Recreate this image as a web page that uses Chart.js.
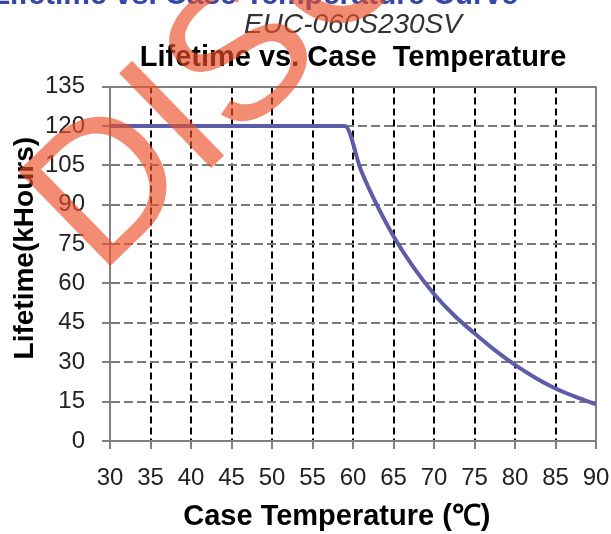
<!DOCTYPE html>
<html>
<head>
<meta charset="utf-8">
<script src="https://cdn.jsdelivr.net/npm/chart.js@4/dist/chart.umd.min.js"></script>
<style>
    body { margin: 0; background: #fff; }
    #wrap { width: 611px; height: 534px; }
</style>
</head>
<body>
<div id="wrap"><canvas id="chart_life"></canvas></div>
<script>
// case temperature (C) and lifetime (kHours)
const temps    = [30, 59, 61, 63, 65, 67.5, 70, 72.5, 75, 77.5, 80, 82.5, 85, 87.5, 90];
const lifetime = [120, 120, 103, 89.5, 78, 66, 56, 47.8, 41, 34.6, 29, 24.1, 20, 16.8, 14];

const xTicks = [30, 35, 40, 45, 50, 55, 60, 65, 70, 75, 80, 85, 90];
const yTicks = [0, 15, 30, 45, 60, 75, 90, 105, 120, 135];

const topTitle = "Lifetime vs. Case Temperature Curve";
const model    = "EUC-060S230SV";
const mainTitle = "Lifetime vs. Case  Temperature";
const stamp    = "DISCONTINUED";

const FONT = "'Liberation Sans', Arial, sans-serif";
const GRAY = "#808080";

// the cut-off blue heading and the red stamp across the corner
const overlay = {
    id: "overlay",
    afterDraw(chart) {
        const ctx = chart.ctx;
        ctx.save();
        ctx.font = "bold 30px " + FONT;
        ctx.fillStyle = "#3446a8";
        ctx.textAlign = "right";
        ctx.textBaseline = "alphabetic";
        ctx.fillText(topTitle, 518, 4);
        ctx.restore();

        ctx.save();
        ctx.translate(99, 277);
        ctx.rotate(-44.2 * Math.PI / 180);
        ctx.font = "192px " + FONT;
        ctx.fillStyle = "rgba(235, 80, 40, 0.65)";
        ctx.textBaseline = "alphabetic";
        ctx.fillText(stamp, 0, 0);
        ctx.restore();
    }
};

function edge(ctx, list) {
    return ctx.index === 0 || ctx.index === list.length - 1;
}

const points = temps.map((t, i) => ({x: t, y: lifetime[i]}));

new Chart(document.getElementById("chart_life"), {
    type: "scatter",
    data: {
        datasets: [{
            data: points,
            showLine: true,
            borderColor: "#5c5ca8",
            borderWidth: 4,
            pointRadius: 0,
            cubicInterpolationMode: "monotone"
        }]
    },
    options: {
        responsive: true,
        maintainAspectRatio: false,
        animation: false,
        layout: { padding: { right: 15 } },
        plugins: {
            legend: { display: false },
            tooltip: { enabled: false },
            title: {
                display: true,
                text: model,
                fullSize: false,
                color: "#333",
                font: { family: FONT, size: 28, style: "italic", weight: "normal", lineHeight: 1.2 },
                padding: { top: 8, bottom: 0 }
            },
            subtitle: {
                display: true,
                text: mainTitle,
                fullSize: false,
                color: "#000",
                font: { family: FONT, size: 29, weight: "bold", lineHeight: 1.1 },
                padding: { top: 0, bottom: 13 }
            }
        },
        scales: {
            x: {
                type: "linear",
                min: 30,
                max: 90,
                afterFit: s => { s.height = 93; s.paddingLeft = 0; s.paddingRight = 0; },
                afterBuildTicks: s => { s.ticks = xTicks.map(v => ({value: v})); },
                ticks: { color: "#222", padding: 15, font: { family: FONT, size: 24 } },
                grid: {
                    color: c => edge(c, xTicks) ? GRAY : "#000",
                    lineWidth: 2,
                    tickLength: 8,
                    tickColor: GRAY,
                    tickWidth: 2,
                    tickBorderDash: []
                },
                border: {
                    color: GRAY,
                    width: 2,
                    dash: c => edge(c, xTicks) ? [] : [7, 4]
                },
                title: {
                    display: true,
                    text: "Case Temperature (\u2103)    ",
                    color: "#000",
                    font: { family: FONT, size: 29, weight: "bold" },
                    padding: { top: 0, bottom: 0 }
                }
            },
            y: {
                min: 0,
                max: 135,
                afterFit: s => { s.width = 110; },
                afterBuildTicks: s => { s.ticks = yTicks.map(v => ({value: v})); },
                ticks: { color: "#222", padding: 17, font: { family: FONT, size: 24 } },
                grid: {
                    color: c => edge(c, yTicks) ? GRAY : "#7a7a7a",
                    lineWidth: 2,
                    tickLength: 8,
                    tickColor: GRAY,
                    tickWidth: 2,
                    tickBorderDash: []
                },
                border: {
                    color: GRAY,
                    width: 2,
                    dash: c => edge(c, yTicks) ? [] : [9, 4]
                },
                title: {
                    display: true,
                    text: "    Lifetime(kHours)",
                    color: "#000",
                    font: { family: FONT, size: 28, weight: "bold" },
                    padding: { top: 8, bottom: 0 }
                }
            }
        }
    },
    plugins: [overlay]
});
</script>
</body>
</html>
